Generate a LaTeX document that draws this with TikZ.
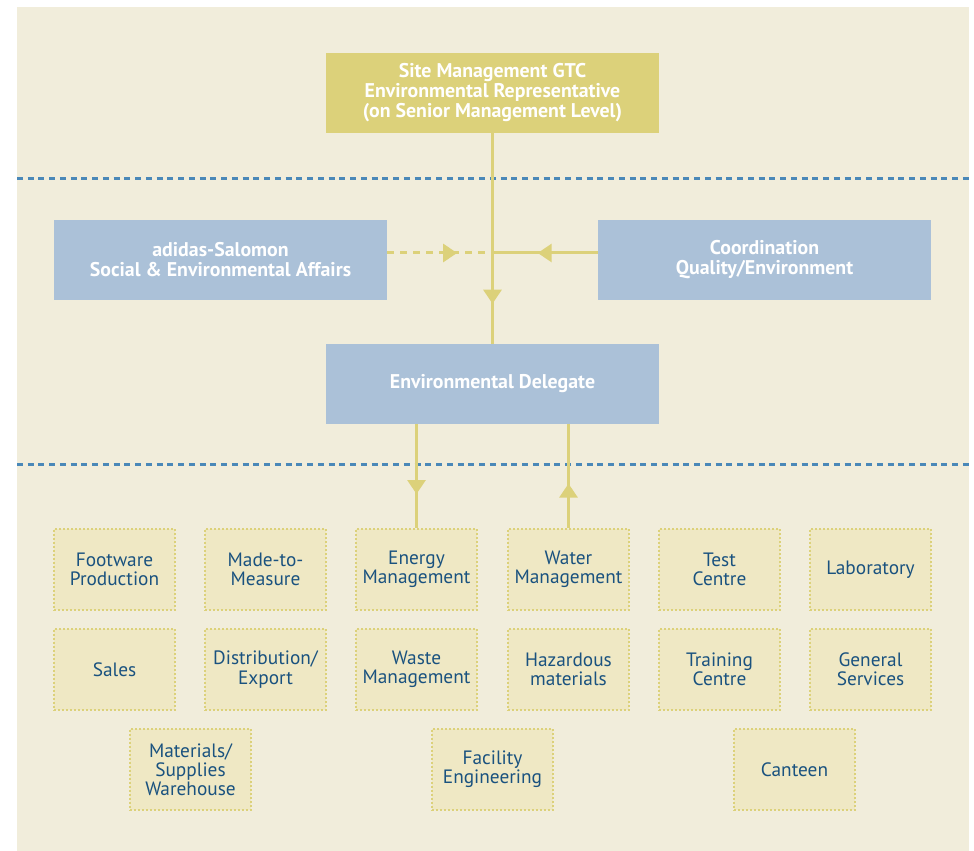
\documentclass[tikz,border=0pt]{standalone}
\usepackage{fontspec}
\setmainfont{PT Sans}
\usepackage{tikz}
\usetikzlibrary{arrows.meta}
\usetikzlibrary{decorations.markings}
\definecolor{paper}{HTML}{F1EDDB}
\definecolor{khaki}{HTML}{DCD17A}
\definecolor{steel}{HTML}{ABC1D8}
\definecolor{unitfill}{HTML}{EFE8C4}
\definecolor{unittext}{HTML}{1A527F}
\definecolor{sepblue}{HTML}{4A88B8}
\tikzset{ head_box/.style = {rectangle, fill=khaki, text=white, font=\bfseries\fontsize{11.3}{11.4}\selectfont, minimum width=6.66cm, minimum height=1.6cm, align=center, inner sep=0pt} }
\tikzset{ staff_box/.style = {head_box, fill=steel} }
\tikzset{ unit/.style = {rectangle, fill=unitfill, draw=khaki, line width=0.8pt, dash pattern=on 0.04cm off 0.04cm, text=unittext, font=\fontsize{11}{10.9}\selectfont, minimum width=2.42cm, minimum height=1.62cm, align=center, inner sep=0pt} }
\tikzset{ flow/.style = {draw=khaki, line width=0.06cm} }
\tikzset{ tip at/.style = {postaction={decorate}, decoration={markings, mark=at position #1 with {\arrow[khaki]{Triangle[width=0.36cm,length=0.28cm]}}}} }
\tikzset{ level_line/.style = {draw=sepblue, line width=0.06cm, dash pattern=on 0.12cm off 0.095cm} }

\begin{document}
\begin{tikzpicture}[x=0.02cm,y=-0.02cm]
            \fill[white] (0,0) rectangle (974,851);
            \fill[paper] (17,7) rectangle (969,851);
            \useasboundingbox (0,0) rectangle (974,851);
            \draw[level_line] (17,179) -- (969,179);
            \draw[level_line] (17,464) -- (969,464);
            \node[head_box] (gtc) at (492.5,93) {Site Management GTC\\Environmental Representative\\(on Senior Management Level)};
            \node[staff_box] (ads) at (220.5,260) {adidas-Salomon\\Social \& Environmental Affairs};
            \node[staff_box] (coq) at (764.5,260) {Coordination\\Quality/Environment};
            \node[staff_box] (del) at (492.5,384) {Environmental Delegate};
            \node[unit] (fp) at (114.5,569.5) {Footware\\Production};
            \node[unit] (mm) at (265.5,569.5) {Made-to-\\Measure};
            \node[unit] (em) at (416.5,569.5) {Energy\\Management};
            \node[unit] (wm) at (568.5,569.5) {Water\\Management};
            \node[unit] (tc) at (719.5,569.5) {Test\\Centre};
            \node[unit] (lab) at (870.5,569.5) {Laboratory};
            \node[unit] (sal) at (114.5,669.5) {Sales};
            \node[unit] (dis) at (265.5,669.5) {Distribution/\\Export};
            \node[unit] (was) at (416.5,669.5) {Waste\\Management};
            \node[unit] (haz) at (568.5,669.5) {Hazardous\\materials};
            \node[unit] (trc) at (719.5,669.5) {Training\\Centre};
            \node[unit] (gs) at (870.5,669.5) {General\\Services};
            \node[unit] (msw) at (190.5,769.5) {Materials/\\Supplies\\Warehouse};
            \node[unit] (fe) at (492.5,769.5) {Facility\\Engineering};
            \node[unit] (can) at (794.5,769.5) {Canteen};
            \coordinate (jn) at (492.5,253);
            \coordinate (dend) at (487,253);
            \draw[flow, tip at=0.81] (gtc) -- (del);
            \draw[flow, tip at=0.57] (coq.west |- jn) -- (jn);
            \draw[flow, dash pattern=on 0.14cm off 0.12cm, tip at=0.70] (ads.east |- jn) -- (dend);
            \draw[flow, tip at=0.67] (del.south -| em.north) -- (em.north);
            \draw[flow, tip at=0.43] (wm.north) -- (del.south -| wm.north);
        \end{tikzpicture}
\end{document}
